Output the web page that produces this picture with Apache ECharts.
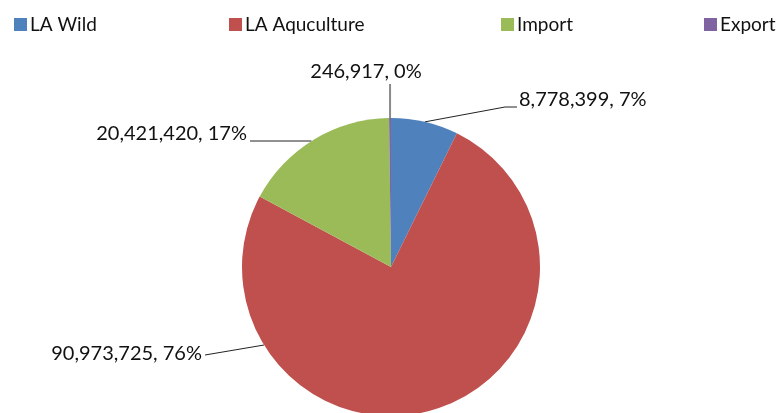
<!DOCTYPE html>
<html><head><meta charset="utf-8">
<script src="https://cdn.jsdelivr.net/npm/echarts@6/dist/echarts.min.js"></script>
<style>html,body{margin:0;padding:0;background:#fff}#c{width:778px;height:413px}</style>
</head><body><div id="c"></div>
<script>
const categories = ['LA Wild', 'LA Aquculture', 'Import', 'Export'];
const values = [8778399, 90973725, 20421420, 246917];
const colors = ['#4F81BD', '#C0504D', '#9BBB59', '#8064A2'];

const chart = echarts.init(document.getElementById('c'));
const font = 'Lato, "Open Sans", sans-serif';
const CX = 391, CY = 267, R = 149;
const legendLefts = [9, 224, 496, 699];
// label anchor positions (text centre y) and alignment
const labelPos = [
  {x: 519, y: 100, align: 'left'},
  {x: 202, y: 354, align: 'right'},
  {x: 247, y: 134, align: 'right'},
  {x: 366, y: 72, align: 'center'}
];
function circleX(y, side) { return CX + side * Math.sqrt(R * R - (y - CY) * (y - CY)); }

chart.setOption({
  animation: false,
  color: colors,
  legend: categories.map((c, i) => ({
    data: [c], left: legendLefts[i], top: 10, itemWidth: 13, itemHeight: 13, itemGap: 0,
    icon: 'rect',
    textStyle: {fontFamily: font, fontSize: 19, color: '#111', padding: [0, 0, 0, -2]}
  })),
  series: [{
    type: 'pie',
    center: [CX, CY],
    radius: R,
    startAngle: 90,
    clockwise: true,
    percentPrecision: 0,
    avoidLabelOverlap: false,
    data: categories.map((c, i) => ({
      name: c, value: values[i],
      labelLine: i === 3 ? {lineStyle: {color: '#8a8a8a', width: 2}} : undefined
    })),
    itemStyle: {borderWidth: 0},
    label: {
      show: true,
      fontFamily: font, fontSize: 20, color: '#111',
      formatter: p => p.value.toLocaleString('en-US') + ', ' + Math.round(p.percent) + '%'
    },
    labelLine: {show: true, length: 20, length2: 10, lineStyle: {color: '#222', width: 1}},
    labelLayout: p => {
      const lp = labelPos[p.dataIndex];
      const start = p.labelLinePoints ? p.labelLinePoints[0] : [CX, CY - R];
      let pts;
      if (p.dataIndex === 0) {
        const ly = lp.y + 7;
        pts = [start, [lp.x - 14, ly], [lp.x - 2, ly]];
      } else if (p.dataIndex === 1) {
        const ly = lp.y + 1;
        const cy = ly - 10;
        pts = [[circleX(cy, -1), cy], [lp.x + 3, ly], [lp.x + 3, ly]];
      } else if (p.dataIndex === 2) {
        const ly = lp.y + 7;
        pts = [[circleX(ly, -1), ly], [lp.x + 3, ly], [lp.x + 3, ly]];
      } else {
        const by = lp.y + 12;
        pts = [[start[0], start[1]], [start[0], by], [start[0], by]];
      }
      return {x: lp.x, y: lp.y, align: lp.align, verticalAlign: 'middle', labelLinePoints: pts};
    },
    emphasis: {disabled: true}
  }]
});
</script></body></html>
